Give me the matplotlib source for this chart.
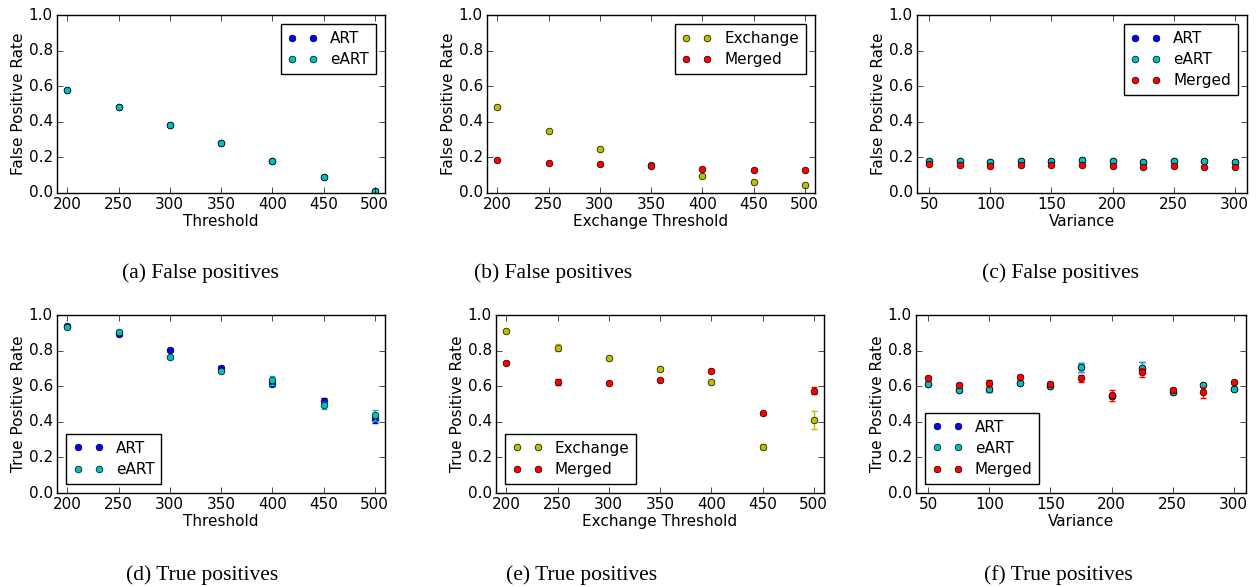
import matplotlib
matplotlib.use("Agg")
import matplotlib.pyplot as plt

plt.style.use("classic")
plt.rcParams.update({
    "figure.facecolor": "white",
    "savefig.facecolor": "white",
    "font.family": ["DejaVu Sans"],
    "font.size": 11,
    "axes.labelsize": 11,
    "xtick.labelsize": 11,
    "ytick.labelsize": 11,
    "legend.fontsize": 11,
})

# ---------------- data ----------------
thr = [200, 250, 300, 350, 400, 450, 500]
var = [50, 75, 100, 125, 150, 175, 200, 225, 250, 275, 300]

# (a) false positives vs threshold
fp_a_art = [0.576, 0.482, 0.383, 0.279, 0.178, 0.088, 0.013]
fp_a_eart = [0.576, 0.482, 0.383, 0.279, 0.178, 0.088, 0.013]

# (b) false positives vs exchange threshold
fp_b_exch = [0.482, 0.351, 0.249, 0.160, 0.097, 0.062, 0.045]
fp_b_merged = [0.183, 0.170, 0.163, 0.150, 0.136, 0.129, 0.131]

# (c) false positives vs variance
fp_c_art = [0.179, 0.178, 0.174, 0.179, 0.178, 0.183, 0.179, 0.174, 0.179, 0.179, 0.176]
fp_c_eart = [0.179, 0.178, 0.174, 0.179, 0.178, 0.183, 0.179, 0.174, 0.179, 0.179, 0.176]
fp_c_merged = [0.164, 0.160, 0.153, 0.158, 0.155, 0.155, 0.152, 0.146, 0.150, 0.147, 0.146]

# (d) true positives vs threshold
tp_d_art = [0.940, 0.893, 0.803, 0.704, 0.615, 0.518, 0.415]
tp_d_art_err = [0.006, 0.006, 0.008, 0.008, 0.015, 0.015, 0.02]
tp_d_eart = [0.931, 0.902, 0.762, 0.685, 0.634, 0.492, 0.437]
tp_d_eart_err = [0.006, 0.006, 0.006, 0.008, 0.025, 0.02, 0.032]

# (e) true positives vs exchange threshold
tp_e_exch = [0.912, 0.816, 0.758, 0.694, 0.623, 0.261, 0.409]
tp_e_exch_err = [0.006, 0.02, 0.008, 0.006, 0.012, 0.012, 0.05]
tp_e_merged = [0.732, 0.623, 0.619, 0.634, 0.687, 0.448, 0.574]
tp_e_merged_err = [0.008, 0.015, 0.006, 0.006, 0.01, 0.006, 0.02]

# (f) true positives vs variance
tp_f_art = [0.612, 0.580, 0.585, 0.617, 0.602, 0.707, 0.546, 0.704, 0.565, 0.608, 0.585]
tp_f_art_err = [0.008, 0.008, 0.02, 0.008, 0.008, 0.025, 0.012, 0.03, 0.01, 0.006, 0.008]
tp_f_eart = [0.612, 0.580, 0.585, 0.617, 0.602, 0.707, 0.546, 0.704, 0.565, 0.608, 0.585]
tp_f_eart_err = [0.008, 0.008, 0.02, 0.008, 0.008, 0.025, 0.012, 0.03, 0.01, 0.006, 0.008]
tp_f_merged = [0.645, 0.608, 0.617, 0.649, 0.613, 0.644, 0.548, 0.679, 0.580, 0.565, 0.621]
tp_f_merged_err = [0.015, 0.008, 0.02, 0.015, 0.012, 0.02, 0.03, 0.025, 0.008, 0.03, 0.006]

captions = ["(a) False positives", "(b) False positives", "(c) False positives",
            "(d) True positives", "(e) True positives", "(f) True positives"]

# ---------------- layout ----------------
W, H = 1260, 587
fig = plt.figure(figsize=(W / 100, H / 100), dpi=100)


def add_ax(l, r, t, b):
    return fig.add_axes([l / W, 1 - b / H, (r - l) / W, (b - t) / H])


C_ART = "b"
C_EART = "c"
C_MER = "r"
C_EXC = "y"
MS = 4.8


def dots(ax, x, y, c, label, err=None):
    if err is not None:
        ax.errorbar(x, y, yerr=err, fmt="none", ecolor=c, capsize=2.5,
                    elinewidth=1, capthick=1)
    ax.plot(x, y, "o", color=c, mec="k", mew=0.5, ms=MS, label=label)


def style(ax, xlim, xticks, xlabel, ylabel):
    ax.set_xlim(*xlim)
    ax.set_ylim(0, 1)
    ax.set_xticks(xticks)
    ax.set_yticks([0.0, 0.2, 0.4, 0.6, 0.8, 1.0])
    ax.set_yticklabels(["0.0", "0.2", "0.4", "0.6", "0.8", "1.0"])
    ax.set_xlabel(xlabel, labelpad=1)
    ax.set_ylabel(ylabel, labelpad=2)
    ax.tick_params(direction="in", length=4, pad=3)


def legend(ax, loc):
    lg = ax.legend(loc=loc, numpoints=2, frameon=True, fancybox=False,
                   handlelength=2.0, handletextpad=0.8, borderpad=0.45,
                   labelspacing=0.4, borderaxespad=0.6)
    lg.get_frame().set_edgecolor("k")
    lg.get_frame().set_linewidth(1.0)


# (a)
ax = add_ax(57, 385, 15, 193)
dots(ax, thr, fp_a_art, C_ART, "ART")
dots(ax, thr, fp_a_eart, C_EART, "eART")
style(ax, (190, 510), thr, "Threshold", "False Positive Rate")
legend(ax, "upper right")

# (b)
ax = add_ax(487, 815, 15, 193)
dots(ax, thr, fp_b_exch, C_EXC, "Exchange")
dots(ax, thr, fp_b_merged, C_MER, "Merged")
style(ax, (190, 510), thr, "Exchange Threshold", "False Positive Rate")
legend(ax, "upper right")

# (c)
ax = add_ax(917, 1247, 15, 193)
dots(ax, var, fp_c_art, C_ART, "ART")
dots(ax, var, fp_c_eart, C_EART, "eART")
dots(ax, var, fp_c_merged, C_MER, "Merged")
style(ax, (40, 310), [50, 100, 150, 200, 250, 300], "Variance", "False Positive Rate")
legend(ax, "upper right")

# (d)
ax = add_ax(57, 385, 315, 493)
dots(ax, thr, tp_d_art, C_ART, "ART", tp_d_art_err)
dots(ax, thr, tp_d_eart, C_EART, "eART", tp_d_eart_err)
style(ax, (190, 510), thr, "Threshold", "True Positive Rate")
legend(ax, "lower left")

# (e)
ax = add_ax(496, 824, 315, 493)
dots(ax, thr, tp_e_exch, C_EXC, "Exchange", tp_e_exch_err)
dots(ax, thr, tp_e_merged, C_MER, "Merged", tp_e_merged_err)
style(ax, (190, 510), thr, "Exchange Threshold", "True Positive Rate")
legend(ax, "lower left")

# (f)
ax = add_ax(916, 1246, 315, 493)
dots(ax, var, tp_f_art, C_ART, "ART", tp_f_art_err)
dots(ax, var, tp_f_eart, C_EART, "eART", tp_f_eart_err)
dots(ax, var, tp_f_merged, C_MER, "Merged", tp_f_merged_err)
style(ax, (40, 310), [50, 100, 150, 200, 250, 300], "Variance", "True Positive Rate")
legend(ax, "lower left")

# captions
cap_pos = [(200, 273), (553, 273), (1060, 273), (202, 575), (582, 575), (1058, 575)]
for (cx, cy), txt in zip(cap_pos, captions):
    fig.text(cx / W, 1 - cy / H, txt, ha="center", va="center",
             family=["Liberation Serif", "DejaVu Serif"], fontsize=15.5)

fig.savefig("out.png", dpi=100)
